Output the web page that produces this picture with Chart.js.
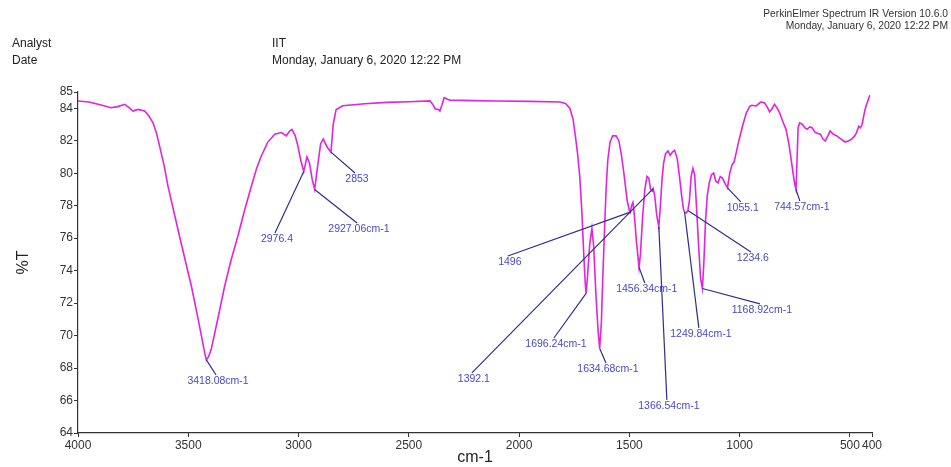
<!DOCTYPE html>
<html>
<head>
<meta charset="utf-8">
<script src="https://cdn.jsdelivr.net/npm/chart.js@4/dist/chart.umd.min.js"></script>
<style>
  html, body { margin: 0; padding: 0; background: #fff; }
  #wrap { width: 951px; height: 467px; position: relative; }
</style>
</head>
<body>
<div id="wrap"><canvas id="ir" width="951" height="467"></canvas></div>
<script>
// IR spectrum: wavenumber (cm-1) and transmittance (%T)
const wavenumbers = [
  4000, 3950, 3900, 3850, 3820, 3788, 3770, 3751, 3728, 3698, 3680, 3660, 3645, 3630, 3610,
  3592, 3570, 3547, 3515, 3486, 3455, 3435, 3425, 3418.08, 3408, 3396, 3365, 3335, 3305, 3275,
  3245, 3214, 3190, 3169, 3140, 3108, 3078, 3056, 3040, 3030, 3015, 3003, 2990, 2976.4, 2962,
  2950, 2938, 2927.06, 2915, 2900, 2888, 2870, 2853, 2843, 2830, 2800, 2700, 2600, 2500, 2404,
  2390, 2381, 2366, 2359, 2350, 2340, 2325, 2313, 2200, 2102, 1950, 1815, 1790, 1770, 1755,
  1745, 1735, 1725, 1715, 1707, 1700, 1696.24, 1690, 1680, 1670, 1662, 1652, 1642, 1634.68, 1627,
  1620, 1612, 1605, 1598, 1588, 1576, 1560, 1548, 1537, 1525, 1510, 1500, 1496, 1490, 1484,
  1478, 1468, 1456.34, 1450, 1440, 1430, 1420, 1412, 1404, 1397, 1392.1, 1385, 1376, 1366.54, 1360,
  1352, 1345, 1336, 1325, 1315, 1305, 1295, 1283, 1273, 1263, 1255, 1249.84, 1242, 1234.6, 1228,
  1220, 1212, 1204, 1196, 1186, 1177, 1168.92, 1162, 1155, 1147, 1138, 1128, 1118, 1108, 1098,
  1088, 1078, 1068, 1055.1, 1045, 1035, 1025, 1012, 1000, 985, 970, 955, 945, 925, 905,
  888, 876, 864, 852, 842, 830, 818, 805, 790, 778, 768, 758, 750, 744.57, 740,
  735, 728, 715, 705, 695, 682, 672, 657, 645, 634, 622, 612, 600, 590, 575,
  560, 540, 522, 505, 492, 478, 470, 460, 452, 445, 438, 430, 420, 410
];
const transmittance = [
  84.45, 84.38, 84.22, 84.03, 84.1, 84.24, 84.05, 83.83, 83.93, 83.83, 83.55, 83.1, 82.5, 81.67, 80.5,
  79.2, 77.9, 76.55, 74.7, 73.05, 71.0, 69.6, 68.9, 68.5, 68.7, 69.15, 71.1, 73.05, 74.7, 76.13,
  77.7, 79.2, 80.3, 81.06, 81.9, 82.4, 82.5, 82.3, 82.6, 82.7, 82.3, 81.67, 80.8, 80.1, 81.0,
  80.6, 79.6, 79.0, 80.3, 81.8, 82.1, 81.6, 81.3, 83.0, 83.9, 84.15, 84.28, 84.36, 84.4, 84.45,
  84.2, 83.97, 83.93, 83.83, 84.2, 84.65, 84.55, 84.5, 84.47, 84.45, 84.42, 84.38, 84.3, 84.0, 83.3,
  82.3, 81.2, 79.8, 77.5, 75.0, 73.2, 72.6, 73.6, 75.6, 76.6, 75.5, 72.6, 70.3, 69.2, 70.8,
  73.8, 76.8, 79.2, 80.8, 81.9, 82.3, 82.3, 82.0, 81.2, 80.0, 78.3, 77.7, 77.6, 78.0, 78.2,
  77.5, 75.8, 74.2, 75.0, 77.3, 79.0, 79.8, 79.7, 79.0, 78.9, 79.05, 78.6, 77.4, 76.7, 77.9,
  79.6, 80.6, 81.2, 81.37, 81.1, 81.3, 81.41, 80.9, 79.8, 78.6, 77.8, 77.6, 77.55, 77.7, 78.3,
  79.8, 80.3, 79.9, 78.0, 75.5, 73.5, 72.9, 74.6, 77.0, 78.6, 79.4, 79.9, 80.0, 79.5, 79.4,
  79.8, 79.7, 79.4, 79.1, 80.0, 80.5, 80.7, 81.5, 82.2, 83.0, 83.7, 84.1, 84.18, 84.14, 84.38,
  84.34, 84.1, 83.77, 84.0, 84.24, 84.0, 83.7, 83.2, 82.7, 81.9, 81.0, 80.0, 79.3, 79.0, 80.8,
  82.8, 83.1, 83.0, 82.8, 82.7, 82.85, 82.8, 82.5, 82.45, 82.4, 82.1, 81.98, 82.3, 82.6, 82.4,
  82.3, 82.1, 81.92, 82.0, 82.1, 82.3, 82.5, 82.9, 82.8, 83.0, 83.5, 84.0, 84.4, 84.8
];

// Axis ticks
const xTicks = [4000, 3500, 3000, 2500, 2000, 1500, 1000, 500, 400];
const yTicks = [64, 66, 68, 70, 72, 74, 76, 78, 80, 82, 84, 85];

// Peak annotations: marked peak, its %T, and where the label sits
const peakLabels = ['3418.08cm-1', '2976.4', '2927.06cm-1', '2853', '1696.24cm-1', '1634.68cm-1', '1496',
  '1456.34cm-1', '1392.1', '1366.54cm-1', '1249.84cm-1', '1234.6', '1168.92cm-1', '1055.1', '744.57cm-1'];
const peakWavenumbers = [3418.08, 2976.4, 2927.06, 2853, 1696.24, 1634.68, 1496,
  1456.34, 1392.1, 1366.54, 1249.84, 1234.6, 1168.92, 1055.1, 744.57];
const peakLevels = [68.5, 80.1, 79.0, 81.3, 72.6, 69.2, 77.6, 74.2, 79.05, 76.7, 77.6, 77.7, 72.9, 79.1, 79.0];
const labelWavenumbers = [3365, 3098, 2726, 2735, 1833, 1597, 2042, 1421, 2205, 1321, 1176, 940, 899, 986, 718];
const labelLevels = [67.2, 75.95, 76.56, 79.64, 69.48, 67.94, 74.53, 72.87, 67.33, 65.67, 70.10, 74.78, 71.58, 77.86, 77.92];

const headerLeft = [['Analyst', 'IIT'], ['Date', 'Monday, January 6, 2020 12:22 PM']];
const headerRight = ['PerkinElmer Spectrum IR Version 10.6.0', 'Monday, January 6, 2020 12:22 PM'];

const FONT = '"Liberation Sans", Arial, Helvetica, sans-serif';

const points = wavenumbers.map((w, i) => ({ x: w, y: transmittance[i] }));

const headerPlugin = {
  id: 'headerText',
  afterDraw(chart) {
    const ctx = chart.ctx;
    ctx.save();
    ctx.fillStyle = '#222';
    ctx.textBaseline = 'alphabetic';
    ctx.font = '12px ' + FONT;
    ctx.textAlign = 'left';
    headerLeft.forEach((row, i) => {
      ctx.fillText(row[0], 12, 47 + i * 17);
      ctx.fillText(row[1], 272, 47 + i * 17);
    });
    ctx.font = '10.3px ' + FONT;
    ctx.textAlign = 'right';
    ctx.fillStyle = '#333';
    headerRight.forEach((t, i) => ctx.fillText(t, 948, 17 + i * 12));
    ctx.restore();
  }
};

const peakPlugin = {
  id: 'peakAnnotations',
  afterDatasetsDraw(chart) {
    const { ctx, scales: { x, y } } = chart;
    ctx.save();
    ctx.font = '10.5px ' + FONT;
    ctx.textAlign = 'center';
    ctx.textBaseline = 'middle';
    peakLabels.forEach((label, i) => {
      const px = x.getPixelForValue(peakWavenumbers[i]);
      const py = y.getPixelForValue(peakLevels[i]);
      const tx = x.getPixelForValue(labelWavenumbers[i]);
      const ty = y.getPixelForValue(labelLevels[i]);
      ctx.strokeStyle = '#2e2e8e';
      ctx.lineWidth = 1.2;
      ctx.beginPath();
      ctx.moveTo(px, py);
      ctx.lineTo(tx - 2, ty - 6);
      ctx.stroke();
      ctx.fillStyle = '#4848cc';
      ctx.fillText(label, tx, ty);
    });
    ctx.restore();
  }
};

new Chart(document.getElementById('ir'), {
  type: 'line',
  data: {
    datasets: [{
      data: points,
      borderColor: '#e024e0',
      borderWidth: 1.6,
      pointRadius: 0,
      tension: 0,
      fill: false
    }]
  },
  options: {
    responsive: false,
    animation: false,
    devicePixelRatio: 1,
    layout: { padding: { top: 92, right: 79, left: 14, bottom: 0 } },
    plugins: { legend: { display: false }, tooltip: { enabled: false } },
    scales: {
      x: {
        type: 'linear',
        reverse: true,
        min: 400,
        max: 4000,
        afterBuildTicks: s => { s.ticks = xTicks.map(v => ({ value: v })); },
        afterFit: s => { s.height = 34; },
        ticks: {
          autoSkip: false, maxRotation: 0, padding: 1,
          color: '#333', font: { family: FONT, size: 12 },
          callback: v => String(v)
        },
        grid: { drawOnChartArea: false, drawTicks: true, tickLength: 4, color: '#333' },
        border: { display: true, color: '#333', width: 1.2 },
        title: { display: true, text: 'cm-1', color: '#222', font: { family: FONT, size: 16 }, padding: { top: -1, bottom: 0 } }
      },
      y: {
        min: 64,
        max: 85,
        afterBuildTicks: s => { s.ticks = yTicks.map(v => ({ value: v })); },
        afterFit: s => { s.width = 64; },
        ticks: {
          autoSkip: false, padding: 1,
          color: '#333', font: { family: FONT, size: 12 },
          callback: v => String(v)
        },
        grid: { drawOnChartArea: false, drawTicks: true, tickLength: 4, color: '#333' },
        border: { display: true, color: '#333', width: 1.2 },
        title: { display: true, text: '%T', color: '#222', font: { family: FONT, size: 16 }, padding: { top: 0, bottom: 0 } }
      }
    }
  },
  plugins: [headerPlugin, peakPlugin]
});
</script>
</body>
</html>
